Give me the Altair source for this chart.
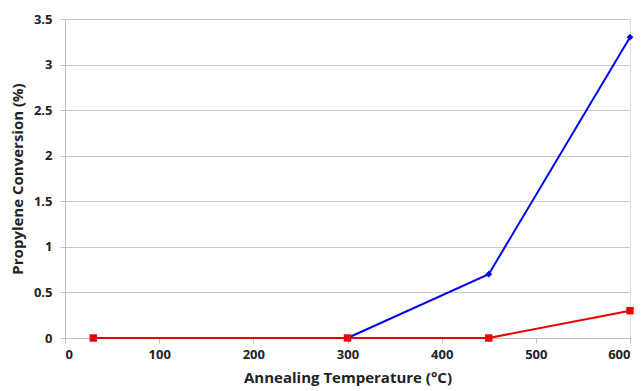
import altair as alt
import pandas as pd

blue_x = [300, 450, 600]
blue_y = [0, 0.7, 3.3]
red_x = [30, 300, 450, 600]
red_y = [0, 0, 0, 0.3]

blue = pd.DataFrame({"t": blue_x, "c": blue_y})
red = pd.DataFrame({"t": red_x, "c": red_y})

font = "Open Sans"
xs = alt.Scale(domain=[0, 600], nice=False)
ys = alt.Scale(domain=[0, 3.5], nice=False)

xenc = alt.X("t:Q", scale=xs, title="Annealing Temperature (°C)",
             axis=alt.Axis(values=[0, 100, 200, 300, 400, 500, 600], grid=False,
                           domainColor="#bfbfbf", tickColor="#bfbfbf", tickSize=5,
                           labelFont=font, labelFontSize=13, labelFontWeight="bold",
                           labelColor="#222", titleFont=font, titleFontSize=15,
                           titleFontWeight="bold", titleColor="#222", titlePadding=9,
                           labelPadding=5))
yenc = alt.Y("c:Q", scale=ys, title="Propylene Conversion (%)",
             axis=alt.Axis(values=[0, 0.5, 1, 1.5, 2, 2.5, 3, 3.5], grid=True, format="~g",
                           gridColor="#c8c8c8", domainColor="#bfbfbf", tickColor="#bfbfbf",
                           tickSize=5, labelFont=font, labelFontSize=13,
                           labelFontWeight="bold", labelColor="#222",
                           titleFont=font, titleFontSize=15, titleFontWeight="bold",
                           titleColor="#222", titlePadding=8, labelPadding=8))

bl = alt.Chart(blue).mark_line(color="#0000ee", strokeWidth=2).encode(x=xenc, y=yenc)
bp = alt.Chart(blue).mark_point(shape="diamond", filled=True, color="#0000ee", size=45, opacity=1).encode(x="t:Q", y="c:Q")
rl = alt.Chart(red).mark_line(color="#ee0000", strokeWidth=2).encode(x="t:Q", y="c:Q")
rp = alt.Chart(red).mark_point(shape="square", filled=True, color="#ee0000", size=55, opacity=1).encode(x="t:Q", y="c:Q")

chart = alt.layer(bl, bp, rl, rp).properties(
    width=565, height=319,
    autosize=alt.AutoSizeParams(type="none"),
    padding={"left": 65, "top": 19, "right": 14, "bottom": 53},
).configure_view(stroke=None).configure(background="white")

chart.save("out.html", embed_options={"renderer": "svg", "actions": False})
